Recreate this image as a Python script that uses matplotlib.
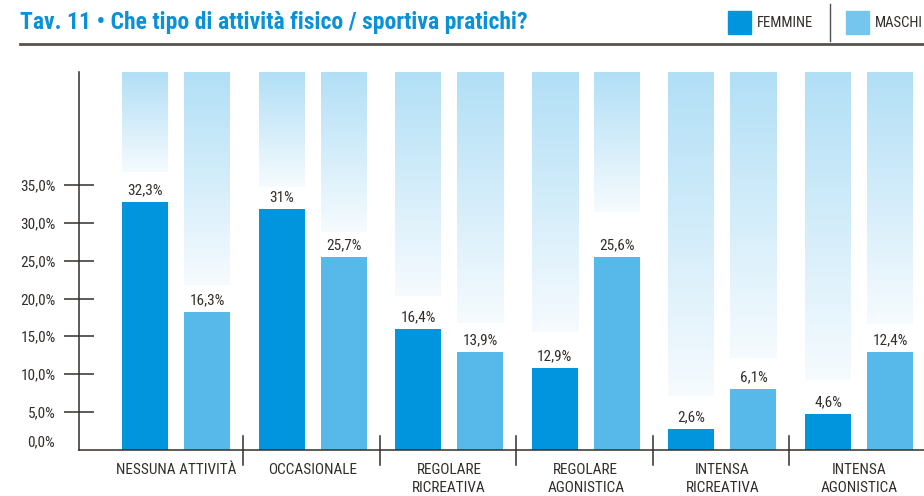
import matplotlib
matplotlib.use("Agg")
import matplotlib.pyplot as plt
import numpy as np
from matplotlib import font_manager
from matplotlib.colors import LinearSegmentedColormap
from matplotlib.patches import Rectangle
from matplotlib.lines import Line2D


def pick_font(names):
    for name in names:
        try:
            font_manager.findfont(font_manager.FontProperties(family=name),
                                  fallback_to_default=False)
            return name
        except ValueError:
            continue
    return "DejaVu Sans"


FONT = pick_font(["Liberation Sans Narrow", "Roboto Condensed", "Liberation Sans"])
NARROW = FONT in ("Liberation Sans Narrow", "Roboto Condensed")
plt.rcParams["font.family"] = [FONT, "DejaVu Sans"]

categories = ["NESSUNA ATTIVITÀ", "OCCASIONALE", "REGOLARE\nRICREATIVA",
              "REGOLARE\nAGONISTICA", "INTENSA\nRICREATIVA", "INTENSA\nAGONISTICA"]
# bar heights as drawn in the original (percent)
femmine = [32.8, 31.8, 16.0, 10.8, 2.7, 4.7]
maschi = [18.2, 25.5, 12.9, 25.5, 8.0, 12.9]
# printed value labels
femmine_labels = ["32,3%", "31%", "16,4%", "12,9%", "2,6%", "4,6%"]
maschi_labels = ["16,3%", "25,7%", "13,9%", "25,6%", "6,1%", "12,4%"]
# lower end of the faded background columns (percent)
bg_floor_f = [36.8, 34.8, 20.3, 15.6, 7.1, 9.2]
bg_floor_m = [21.8, 28.8, 16.8, 31.5, 12.1, 16.6]
yticks = [5, 10, 15, 20, 25, 30, 35]

TITLE = "Tav. 11 \u2022 Che tipo di attività fisico / sportiva pratichi?"
BLUE_TITLE = "#0b91d8"
C_F = "#0095dc"
C_M = "#56b9ea"
C_M_LEG = "#74c6ef"
DARK = "#332e2b"

W, H = 924, 496
FS = 11 if NARROW else 10
FS_TITLE = 17 if NARROW else 15


def fx(px):
    return px / W


def fy(py):
    return 1 - py / H


fig = plt.figure(figsize=(W / 100, H / 100), dpi=100)

# header
fig.text(fx(20), fy(29.5), TITLE, color=BLUE_TITLE, fontsize=FS_TITLE, fontweight="bold",
         va="baseline", ha="left")
fig.add_artist(Line2D([fx(20), 1], [fy(44), fy(44)], color="#58534f", lw=2.0,
                      transform=fig.transFigure))
fig.add_artist(Rectangle((fx(728), fy(34)), 23 / W, 23 / H, color=C_F,
                         transform=fig.transFigure))
fig.text(fx(757), fy(23), "FEMMINE", fontsize=FS - 0.5, color=DARK, va="center", ha="left")
fig.add_artist(Line2D([fx(830), fx(830)], [fy(4), fy(41)], color="#555050", lw=1.0,
                      transform=fig.transFigure))
fig.add_artist(Rectangle((fx(846), fy(34)), 23 / W, 23 / H, color=C_M_LEG,
                         transform=fig.transFigure))
fig.text(fx(875), fy(23), "MASCHI", fontsize=FS - 0.5, color=DARK, va="center", ha="left")

# plot area
x0_px, y0_px, ytop_px = 78.7, 449.5, 72
ax = fig.add_axes([fx(x0_px), fy(y0_px), 1 - fx(x0_px), (y0_px - ytop_px) / H])

unit = 136.6
c0 = 176
x = np.arange(len(categories))
off = 31 / unit
bw = 46 / unit

bg_cmap = LinearSegmentedColormap.from_list("bg", ["#f6fbfe", "#b1dff6"])
grad = np.linspace(0, 1, 256).reshape(-1, 1)
for i in range(len(categories)):
    for xc, floor in ((x[i] - off, bg_floor_f[i]), (x[i] + off, bg_floor_m[i])):
        ax.imshow(grad, extent=[xc - bw / 2, xc + bw / 2, floor, 50], origin="lower",
                  cmap=bg_cmap, aspect="auto", zorder=0, interpolation="bilinear")

ax.bar(x - off, femmine, width=bw, color=C_F, zorder=2)
ax.bar(x + off, maschi, width=bw, color=C_M, zorder=2)

for i in range(len(categories)):
    ax.annotate(femmine_labels[i], (x[i] - off, femmine[i]), xytext=(0, 8.5),
                textcoords="offset points", ha="center", va="center",
                fontsize=FS, color=DARK)
    ax.annotate(maschi_labels[i], (x[i] + off, maschi[i]), xytext=(0, 8.5),
                textcoords="offset points", ha="center", va="center",
                fontsize=FS, color=DARK)
    ax.annotate(categories[i], (x[i], 0), xytext=(0, -9.5), textcoords="offset points",
                ha="center", va="top", fontsize=FS, color=DARK, linespacing=1.38,
                annotation_clip=False)

for i in range(len(categories) - 1):
    ax.plot([x[i] + 0.49, x[i] + 0.49], [1.8, -2.05], color=DARK, lw=1.1, clip_on=False,
            zorder=3)

ax.set_xlim(-(c0 - x0_px) / unit, (W - c0) / unit)
ax.set_ylim(0, 50)
ax.set_xticks([])
ax.set_yticks(yticks)
ax.set_yticklabels([f"{v:.1f}%".replace(".", ",") for v in yticks], fontsize=FS,
                   color=DARK)
ax.tick_params(axis="y", direction="inout", length=21, width=1.1, color=DARK, pad=6)
ax.annotate("0,0%", (0, 0), xycoords=("axes fraction", "data"), xytext=(-17, 5.4),
            textcoords="offset points", ha="right", va="center", fontsize=FS,
            color=DARK, annotation_clip=False)

for s in ("top", "right"):
    ax.spines[s].set_visible(False)
for s in ("left", "bottom"):
    ax.spines[s].set_color(DARK)
    ax.spines[s].set_linewidth(1.1)
ax.set_facecolor("none")

fig.savefig("out.png", dpi=100)
